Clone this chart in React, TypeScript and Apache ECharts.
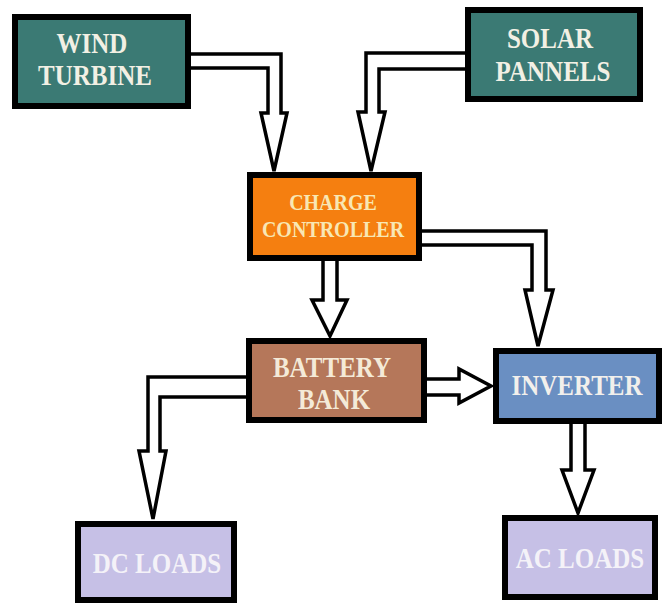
import React, { useEffect, useRef } from "react";
import * as echarts from "echarts";

// Node labels (each line of text)
const nodeNames = ["wind", "solar", "charge", "battery", "inverter", "dc", "ac"];
const nodeLabels: string[][] = [
  ["WIND", "TURBINE"],
  ["SOLAR", "PANNELS"],
  ["CHARGE", "CONTROLLER"],
  ["BATTERY", "BANK"],
  ["INVERTER"],
  ["DC LOADS"],
  ["AC LOADS"],
];
// Flows between nodes
const flows: [string, string][] = [
  ["wind", "charge"],
  ["solar", "charge"],
  ["charge", "battery"],
  ["charge", "inverter"],
  ["battery", "inverter"],
  ["battery", "dc"],
  ["inverter", "ac"],
];

// Layout (outer box bounds: x0, y0, x1, y1)
const boxBounds: number[][] = [
  [12, 14, 191, 109],
  [465, 7, 643, 102],
  [247, 172, 422, 261],
  [246, 338, 427, 423],
  [493, 348, 662, 424],
  [75, 521, 237, 603],
  [502, 515, 658, 600],
];
const boxFills = ["#3b7a74", "#3b7a74", "#f57f10", "#b5775a", "#6a8fc2", "#c6c0e6", "#c6c0e6"];
const textColors = ["#f2f0e4", "#f2f0e4", "#f8e7b4", "#f4ead8", "#f2f0ec", "#f4f2f8", "#f4f2f8"];
// Text line centers [x, y] per node
const textCenters: number[][][] = [
  [[92, 43], [95, 75]],
  [[550, 38], [553, 71]],
  [[333, 203], [333, 230]],
  [[332, 367], [334, 399]],
  [[577, 385]],
  [[157, 563]],
  [[580, 558]],
];
const fontSizes = [25, 25, 20, 25, 25, 25, 25];

// Arrow outlines, one polygon per flow
const arrowShapes: number[][][] = [
  [[186, 54], [281, 54], [281, 113], [287, 113], [274, 171], [261, 113], [268, 113], [268, 68], [186, 68]],
  [[470, 53], [366, 53], [366, 112], [358, 112], [371, 171], [385, 112], [379, 112], [379, 69], [470, 69]],
  [[323, 256], [323, 300], [312, 300], [330, 336], [347, 300], [337, 300], [337, 256]],
  [[417, 231], [546, 231], [546, 290], [553, 290], [538, 346], [525, 290], [532, 290], [532, 245], [417, 245]],
  [[422, 379], [459, 379], [459, 369], [491, 386], [459, 403], [459, 395], [422, 395]],
  [[251, 377], [148, 377], [148, 451], [139, 451], [153, 519], [166, 451], [160, 451], [160, 397], [251, 397]],
  [[571, 419], [571, 470], [562, 470], [578, 513], [594, 470], [585, 470], [585, 419]],
];

export default function App() {
  const ref = useRef<HTMLDivElement>(null);
  useEffect(() => {
    if (!ref.current) return;
    const chart = echarts.init(ref.current, null, { renderer: "svg" });
    const elements: any[] = [];
    flows.forEach((f, i) => {
      elements.push({
        type: "polygon",
        shape: { points: arrowShapes[i] },
        style: { fill: "#ffffff", stroke: "#000000", lineWidth: 3.5, lineJoin: "miter" },
        z: 1,
      });
    });
    nodeNames.forEach((n, i) => {
      const [x0, y0, x1, y1] = boxBounds[i];
      const bw = 6;
      elements.push({
        type: "rect",
        shape: { x: x0 + bw / 2, y: y0 + bw / 2, width: x1 - x0 - bw, height: y1 - y0 - bw },
        style: { fill: boxFills[i], stroke: "#000000", lineWidth: bw },
        z: 2,
      });
      nodeLabels[i].forEach((line, j) => {
        const [cx, cy] = textCenters[i][j];
        elements.push({
          type: "text",
          x: cx,
          y: cy,
          scaleY: i === 2 ? 1.12 : 1.2,
          style: {
            text: line,
            x: 0,
            y: 0,
            align: "center",
            verticalAlign: "middle",
            fill: textColors[i],
            fontFamily: "Liberation Serif",
            fontWeight: "bold",
            fontSize: fontSizes[i],
          },
          z: 3,
        });
      });
    });
    chart.setOption({
      animation: false,
      backgroundColor: "#ffffff",
      graphic: { elements },
    });
    return () => chart.dispose();
  }, []);
  return (
    <div
      ref={ref}
      style={{ position: "fixed", left: 0, top: 0, width: 663, height: 604, background: "#fff" }}
    />
  );
}
